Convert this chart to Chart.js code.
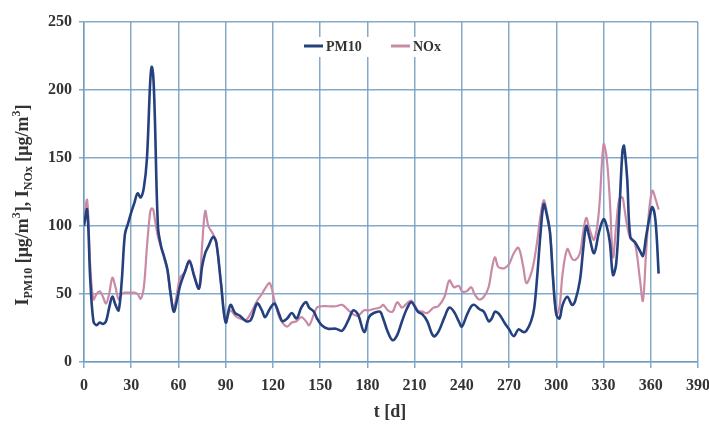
<!DOCTYPE html>
<html>
<head>
<meta charset="utf-8">
<script src="https://cdn.jsdelivr.net/npm/chart.js@4.4.1/dist/chart.umd.min.js"></script>
<style>
html,body{margin:0;padding:0;background:#fff;}
#wrap{width:709px;height:430px;position:relative;}
</style>
</head>
<body>
<div id="wrap"><canvas id="c" width="709" height="430"></canvas></div>
<script>
const days = [0,2,4,6,8,10,12,14,16,18,20,22,24,26,28,30,32,34,36,38,40,42,43,44,45,47,49,51,53,55,57,59,61,64,67,70,73,75,77,79,82,84,87,90,93,96,99,103,106,110,113,115,118,121,124,126,129,132,135,138,141,143,146,148,151,155,160,164,168,171,174,178,181,184,188,190,193,196,199,202,205,208,212,215,218,222,225,229,232,235,238,240,243,246,248,251,254,257,259,261,263,265,267,270,273,276,279,281,284,286,288,290,292,294,296,298,300,302,304,307,310,312,315,317,319,321,324,327,330,332,334,336,338,340,342,343,345,347,350,353,355,357,359,361,363,365];
const pm10 = [100,112,60,30,27,29,28,30,40,48,42,38,60,94,102,110,117,124,121,128,150,205,217,210,180,99,85,77,68,50,37,45,56,66,74,63,54,70,80,85,92,88,58,29,42,36,34,30,31,43,38,33,39,43,35,30,32,36,32,40,44,40,37,32,27,24.5,24.5,23,31,38,35,22,33,36,37,32,22,16,20,30,39,44,37,35,30,19,22,33,40,37,30,26,34,41,42,39,37,30,32,37,36,33,29,24,19,24,22,23,30,40,65,95,116,108,95,60,35,32,42,48,42,45,60,82,100,92,80,95,105,100,88,64,72,110,155,159,135,92,88,82,78,92,105,114,104,65];
const nox = [105,119,70,46,50,52,48,43,50,62,55,46,50,51,51,51,51,50,46.5,55,85,110,113,112,105,92,84,76,67,50,40,50,62,66,75,64,54,85,111,100,94,88,58,30,38,34,32,31,36,45,50,54,58,45,33,29,26,29,30,33,30,27,35,40,41,41,41,42,38,35,34,38,38,39,40,42,38,37,44,40,43,45,38,37,36,40,41,48,60,55,56,52,52,55,50,46,48,55,68,77,70,69,69,72,80,84,70,58,65,75,90,108,119,110,96,62,35,40,65,83,76,75,80,95,106,98,90,110,160,150,119,77,100,120,121,115,100,91,87,62,45,80,112,126,120,112];
const xTicks = [0,30,60,90,120,150,180,210,240,270,300,330,360,390];
const yTicks = [0,50,100,150,200,250];
const seriesNames = ['PM10','NOx'];
const xTitle = 't [d]';

const pmColor = '#24407e';
const noxColor = '#c98aa6';
const gridColor = 'rgba(110,155,190,0.85)';
const FONT = '"Liberation Serif","DejaVu Serif",serif';

const legendPlugin = {
  id: 'customDecor',
  afterDraw(chart) {
    const ctx = chart.ctx;
    ctx.save();
    // legend
    ctx.fillStyle = '#fff';
    ctx.fillRect(298, 37, 150, 20);
    ctx.lineWidth = 3;
    ctx.strokeStyle = pmColor;
    ctx.beginPath(); ctx.moveTo(304, 46); ctx.lineTo(323, 46); ctx.stroke();
    ctx.strokeStyle = noxColor;
    ctx.beginPath(); ctx.moveTo(391, 46); ctx.lineTo(410, 46); ctx.stroke();
    ctx.fillStyle = '#333';
    ctx.font = 'bold 14px ' + FONT;
    ctx.textBaseline = 'middle';
    ctx.textAlign = 'left';
    ctx.fillText(seriesNames[0], 326, 47);
    ctx.fillText(seriesNames[1], 413, 47);

    // x title
    ctx.font = 'bold 18px ' + FONT;
    ctx.textAlign = 'center';
    ctx.fillText(xTitle, 390, 412);

    // y title with subscripts / superscripts
    const parts = [
      ['I', 'n'], ['PM10', 'sub'], [' [\u03bcg/m', 'n'], ['3', 'sup'], ['], I', 'n'], ['NOx', 'sub'], [' [\u03bcg/m', 'n'], ['3', 'sup'], [']', 'n']
    ];
    const big = 'bold 18px ' + FONT, small = 'bold 12px ' + FONT;
    let total = 0;
    parts.forEach(p => { ctx.font = p[1] === 'n' ? big : small; total += ctx.measureText(p[0]).width; });
    ctx.translate(22, 205);
    ctx.rotate(-Math.PI / 2);
    let x = -total / 2;
    ctx.textAlign = 'left';
    ctx.textBaseline = 'alphabetic';
    parts.forEach(p => {
      ctx.font = p[1] === 'n' ? big : small;
      const dy = p[1] === 'sub' ? 10 : (p[1] === 'sup' ? -2 : 6);
      ctx.fillText(p[0], x, dy);
      x += ctx.measureText(p[0]).width;
    });
    ctx.restore();
  }
};

new Chart(document.getElementById('c'), {
  type: 'line',
  data: {
    datasets: [
      { label: seriesNames[0], data: days.map((d, i) => ({x: d, y: pm10[i]})), borderColor: pmColor, borderWidth: 2.6, pointRadius: 0, tension: 0.35, fill: false },
      { label: seriesNames[1], data: days.map((d, i) => ({x: d, y: nox[i]})), borderColor: noxColor, borderWidth: 2.2, pointRadius: 0, tension: 0.35, fill: false }
    ]
  },
  options: {
    responsive: false,
    animation: false,
    devicePixelRatio: 1,
    layout: { padding: { top: 22, right: 11, left: 0, bottom: 0 } },
    plugins: { legend: { display: false }, tooltip: { enabled: false } },
    scales: {
      x: {
        type: 'linear', min: 0, max: 390,
        afterBuildTicks: s => { s.ticks = xTicks.map(v => ({value: v})); },
        afterFit: s => { s.height = 68; s.paddingRight = 0; s.paddingLeft = 0; },
        grid: { color: gridColor, lineWidth: 1.5, tickLength: 6, drawTicks: true },
        border: { color: gridColor, width: 1.5 },
        ticks: { color: '#333', font: { family: FONT, size: 16, weight: 'bold' }, padding: 8, maxRotation: 0 }
      },
      y: {
        min: 0, max: 250,
        afterBuildTicks: s => { s.ticks = yTicks.map(v => ({value: v})); },
        afterFit: s => { s.width = 84; s.paddingTop = 0; s.paddingBottom = 0; },
        grid: { color: gridColor, lineWidth: 1.5, tickLength: 5 },
        border: { color: gridColor, width: 1.5 },
        ticks: { color: '#333', font: { family: FONT, size: 16, weight: 'bold' }, padding: 7 }
      }
    }
  },
  plugins: [legendPlugin]
});
</script>
</body>
</html>
